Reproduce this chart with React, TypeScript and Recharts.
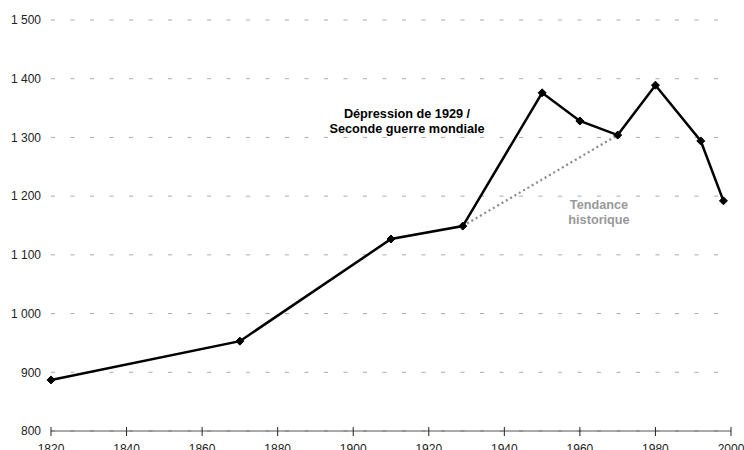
import React from "react";
import { LineChart, Line, XAxis, YAxis, CartesianGrid } from "recharts";

const years = [1820, 1870, 1910, 1929, 1950, 1960, 1970, 1980, 1992, 1998];
const values = [887, 953, 1127, 1149, 1376, 1328, 1304, 1389, 1294, 1192];
const trendYears = [1929, 1970];
const trendValues = [1149, 1304];
const xTicks = [1820, 1840, 1860, 1880, 1900, 1920, 1940, 1960, 1980, 2000];
const yTicks = [800, 900, 1000, 1100, 1200, 1300, 1400, 1500];

const mainData = years.map((year, i) => ({ year, value: values[i] }));
const trendData = trendYears.map((year, i) => ({ year, trend: trendValues[i] }));

const FONT = "'Liberation Sans', Arial, sans-serif";

const fmtY = (v: number) =>
    v >= 1000 ? `${Math.floor(v / 1000)} ${String(v % 1000).padStart(3, "0")}` : String(v);

const Diamond = (props: any) => {
    const { cx, cy } = props;
    if (cx == null || cy == null) return null;
    const r = 4;
    return (
        <polygon
            points={`${cx},${cy - r} ${cx + r},${cy} ${cx},${cy + r} ${cx - r},${cy}`}
            fill="#000"
            stroke="#000"
            strokeWidth={1}
        />
    );
};

const XTick = (props: any) => {
    const { x, y, payload } = props;
    return (
        <g>
            <line x1={x} x2={x} y1={y - 4} y2={y + 5} stroke="#222" strokeWidth={1} />
            <text x={x} y={y + 13} dy="0.71em" textAnchor="middle" fontSize={12} fill="#222" fontFamily={FONT}>
                {payload.value}
            </text>
        </g>
    );
};

const App: React.FC = () => {
    return (
        <div style={{ position: "absolute", left: 0, top: 0, width: 744, height: 450, background: "#fff" }}>
            <LineChart width={744} height={450} margin={{ top: 20, right: 13, bottom: 0, left: 0 }}>
                <CartesianGrid horizontal vertical={false} stroke="#aaa" strokeDasharray="4 15.5" />
                <XAxis
                    dataKey="year"
                    type="number"
                    domain={[1820, 2000]}
                    ticks={xTicks}
                    allowDuplicatedCategory={false}
                    height={19}
                    tickSize={0}
                    tickMargin={0}
                    tickLine={false}
                    axisLine={{ stroke: "#555", strokeWidth: 1 }}
                    tick={<XTick />}
                    interval={0}
                />
                <YAxis
                    type="number"
                    domain={[800, 1500]}
                    ticks={yTicks}
                    width={51}
                    tickSize={0}
                    tickMargin={10}
                    tickLine={false}
                    axisLine={false}
                    tickFormatter={fmtY}
                    tick={{ fontSize: 12, fill: "#222", fontFamily: FONT }}
                    interval={0}
                />
                <Line
                    data={trendData}
                    dataKey="trend"
                    stroke="#888"
                    strokeWidth={2.2}
                    strokeDasharray="2 3"
                    dot={false}
                    isAnimationActive={false}
                />
                <Line
                    data={mainData}
                    dataKey="value"
                    stroke="#000"
                    strokeWidth={2.5}
                    dot={<Diamond />}
                    activeDot={false}
                    isAnimationActive={false}
                />
                <text x={407} y={114} textAnchor="middle" dominantBaseline="central" fontSize={12.7} fontWeight="bold" fill="#000" fontFamily={FONT}>
                    Dépression de 1929 /
                </text>
                <text x={407} y={129} textAnchor="middle" dominantBaseline="central" fontSize={12.7} fontWeight="bold" fill="#000" fontFamily={FONT}>
                    Seconde guerre mondiale
                </text>
                <text x={599} y={205} textAnchor="middle" dominantBaseline="central" fontSize={12.7} fontWeight="bold" fill="#999" fontFamily={FONT}>
                    Tendance
                </text>
                <text x={599} y={220} textAnchor="middle" dominantBaseline="central" fontSize={12.7} fontWeight="bold" fill="#999" fontFamily={FONT}>
                    historique
                </text>
            </LineChart>
        </div>
    );
};

export default App;
